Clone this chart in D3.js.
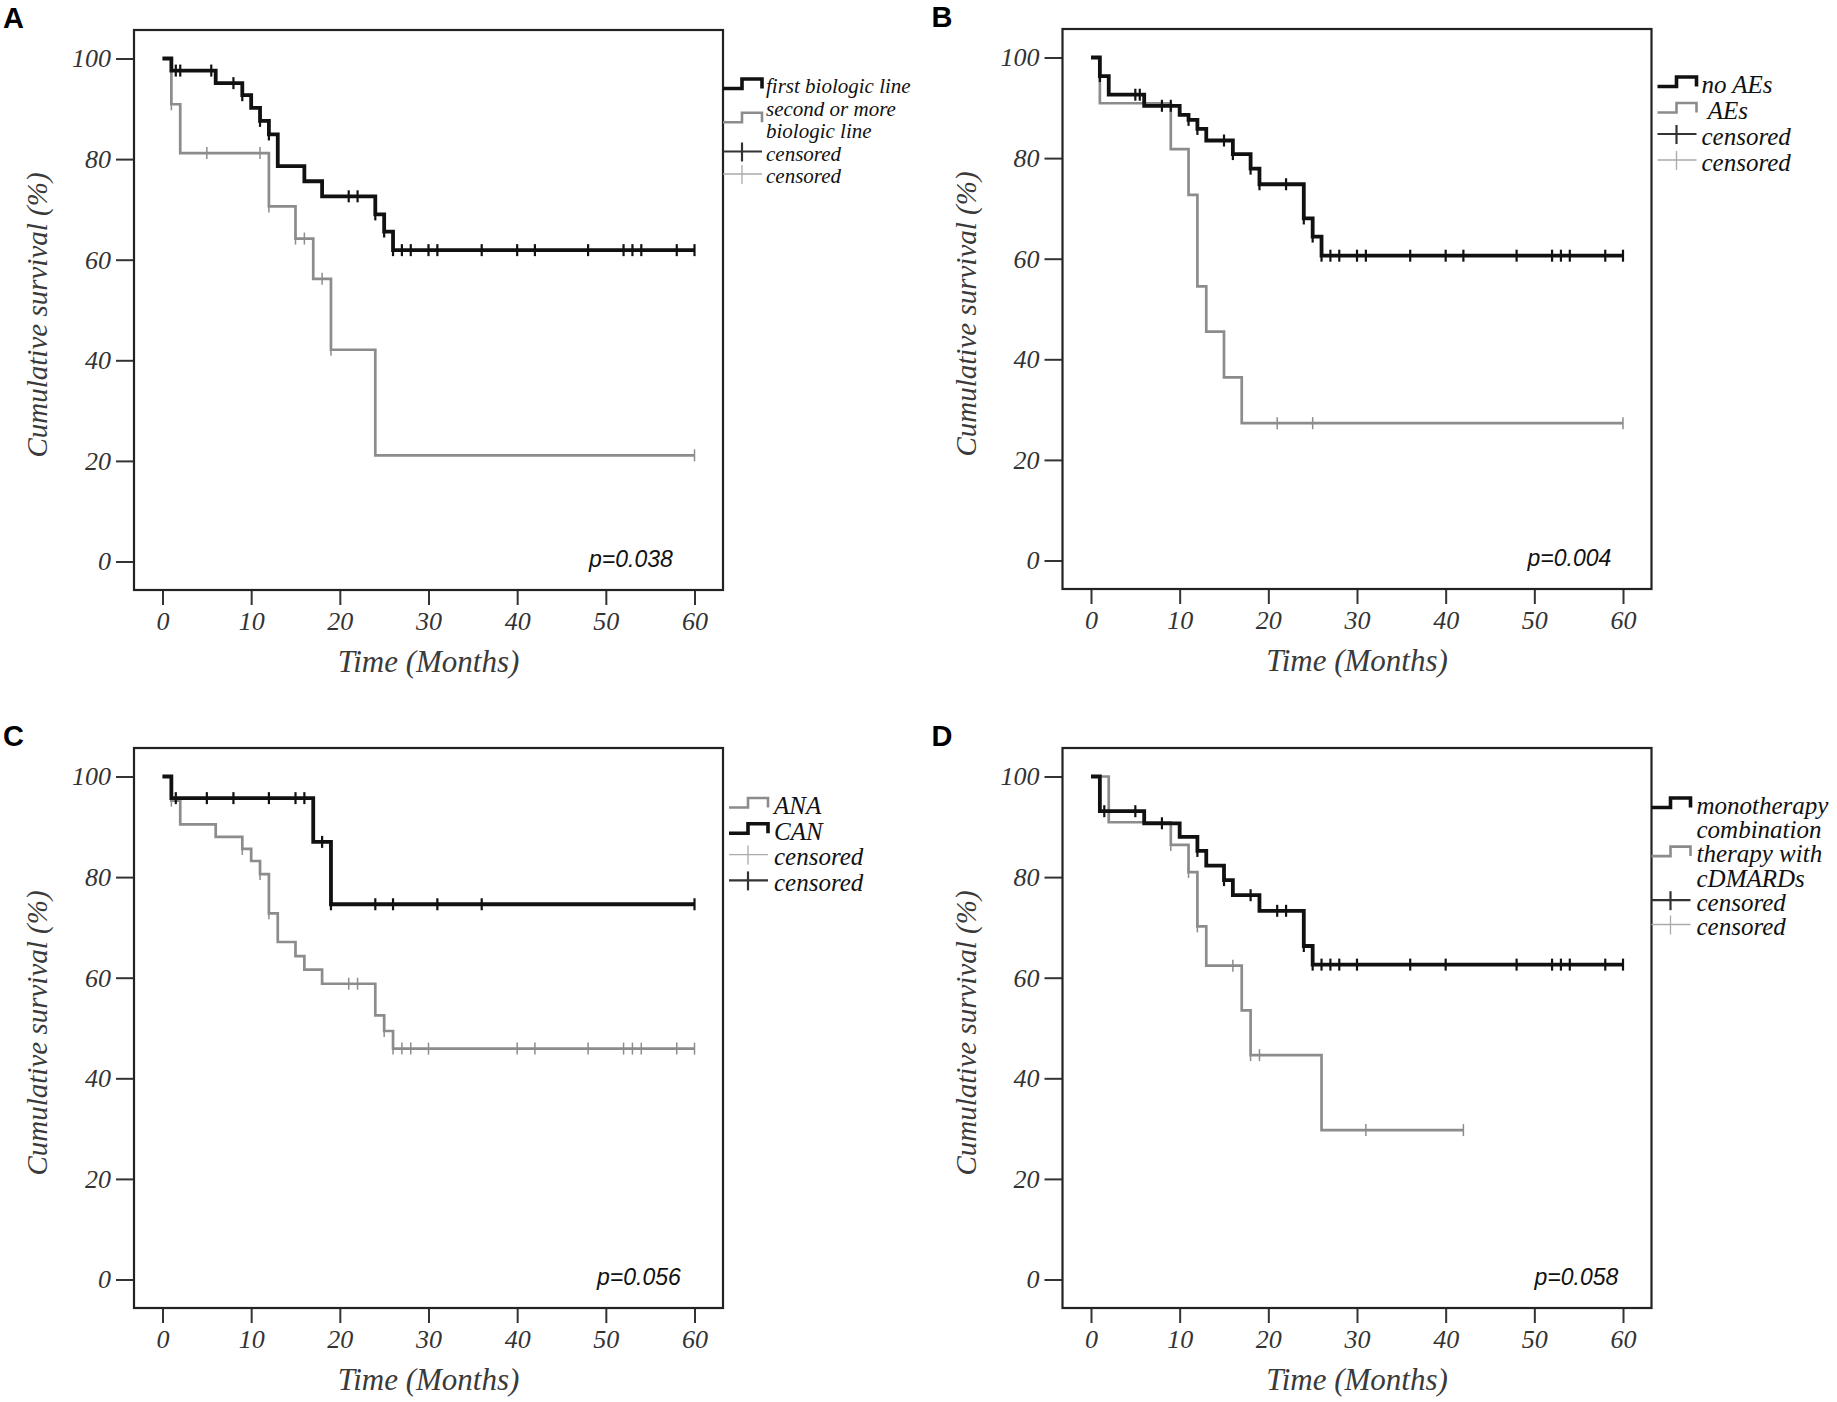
<!DOCTYPE html>
<html>
<head>
<meta charset="utf-8">
<script src="https://cdn.jsdelivr.net/npm/d3@7"></script>
<style>
  body { margin: 0; background: #fff; }
</style>
</head>
<body>
<svg id="chart" width="1837" height="1402"></svg>
<script>
// ---- data ----
const xTicks = [0, 10, 20, 30, 40, 50, 60];
const yTicks = [0, 20, 40, 60, 80, 100];
const panelLabels = ["A", "B", "C", "D"];
const pValues = ["p=0.038", "p=0.004", "p=0.056", "p=0.058"];
const xTitle = "Time (Months)";
const yTitle = "Cumulative survival (%)";

// A: biologic line
const aFirstTimes = [0, 1, 6, 9, 10, 11, 12, 13, 16, 18, 24, 25, 26];
const aFirstSurv  = [100, 97.6, 95.1, 92.7, 90.2, 87.6, 84.9, 78.6, 75.6, 72.6, 69.0, 65.6, 61.9];
const aFirstCens  = [1.5, 2, 5.5, 8, 9, 11, 12, 21, 22, 24, 25, 26, 27, 28, 30, 31, 36, 40, 42, 48, 52, 53, 54, 58, 60];
const aSecondTimes = [0, 1, 2, 12, 15, 17, 19, 24];
const aSecondSurv  = [100, 90.9, 81.2, 70.6, 64.2, 56.2, 42.1, 21.1];
const aSecondCens  = [1, 5, 11, 12, 15, 16, 18, 19, 60];

// B: adverse events
const bNoAeTimes = [0, 1, 2, 6, 10, 11, 12, 13, 16, 18, 19, 24, 25, 26];
const bNoAeSurv  = [100, 96.3, 92.6, 90.4, 88.6, 87.6, 85.8, 83.5, 80.8, 77.9, 74.8, 68.0, 64.4, 60.6];
const bNoAeCens  = [1, 5, 5.5, 8, 9, 11, 12, 15, 16, 18, 19, 22, 24, 25, 26, 27, 28, 30, 31, 36, 40, 42, 48, 52, 53, 54, 58, 60];
const bAeTimes = [0, 1, 9, 11, 12, 13, 15, 17];
const bAeSurv  = [100, 90.9, 81.8, 72.7, 54.5, 45.5, 36.4, 27.3];
const bAeCens  = [21, 25, 60];

// C: ANA vs CAN
const cAnaTimes = [0, 1, 2, 6, 9, 10, 11, 12, 13, 15, 16, 18, 24, 25, 26];
const cAnaSurv  = [100, 95.2, 90.5, 88.0, 85.6, 83.2, 80.6, 72.8, 67.1, 64.3, 61.6, 58.8, 52.5, 49.4, 45.9];
const cAnaCens  = [1, 9, 11, 12, 21, 22, 25, 26, 27, 28, 30, 40, 42, 48, 52, 53, 54, 58, 60];
const cCanTimes = [0, 1, 17, 19];
const cCanSurv  = [100, 95.7, 87.0, 74.6];
const cCanCens  = [1.5, 5, 8, 12, 15, 16, 18, 19, 24, 26, 31, 36, 60];

// D: monotherapy vs combination
const dMonoTimes = [0, 1, 6, 10, 12, 13, 15, 16, 19, 24, 25];
const dMonoSurv  = [100, 93.1, 90.7, 88.0, 85.2, 82.3, 79.4, 76.4, 73.3, 66.3, 62.6];
const dMonoCens  = [1.5, 5, 8, 12, 15, 18, 21, 22, 24, 25, 26, 27, 28, 30, 36, 40, 48, 52, 53, 54, 58, 60];
const dCombTimes = [0, 2, 9, 11, 12, 13, 17, 18, 26];
const dCombSurv  = [100, 90.9, 86.4, 81.0, 70.2, 62.4, 53.5, 44.6, 29.7];
const dCombCens  = [9, 11, 12, 16, 18, 19, 31, 42];

const BLACK = "#111", GRAY = "#8c8c8c";
const serif = "'Liberation Serif','Times New Roman',serif";
const sans = "'Liberation Sans',Arial,sans-serif";

const black = (times, surv, cens) => ({times, surv, cens, color: BLACK, width: 3.8, censW: 2.2});
const gray  = (times, surv, cens) => ({times, surv, cens, color: GRAY, width: 2.7, censW: 1.5});

// panel layout (frame boxes) + legends
const panels = [
  { left: 134, top: 30, pX: 455,
    series: [gray(aSecondTimes, aSecondSurv, aSecondCens), black(aFirstTimes, aFirstSurv, aFirstCens)],
    legend: { sx: 0, tx: 43, y0: 56, pitch: 22.5, size: 21, entries: [
      {lines: ["first biologic line"], kind: "step", color: BLACK, w: 3.6},
      {lines: ["second or more", "biologic line"], kind: "step", color: GRAY, w: 2.6},
      {lines: ["censored"], kind: "cens", color: "#333", w: 2.2},
      {lines: ["censored"], kind: "cens", color: "#aaa", w: 1.3}]}},
  { left: 1062.5, top: 29, pX: 465,
    series: [gray(bAeTimes, bAeSurv, bAeCens), black(bNoAeTimes, bNoAeSurv, bNoAeCens)],
    legend: { sx: 6, tx: 50, y0: 55, pitch: 26, size: 25, entries: [
      {lines: ["no AEs"], kind: "step", color: BLACK, w: 3.6},
      {lines: ["\u00a0AEs"], kind: "step", color: GRAY, w: 2.6},
      {lines: ["censored"], kind: "cens", color: "#333", w: 2.2},
      {lines: ["censored"], kind: "cens", color: "#aaa", w: 1.3}]}},
  { left: 134, top: 748, pX: 463,
    series: [gray(cAnaTimes, cAnaSurv, cAnaCens), black(cCanTimes, cCanSurv, cCanCens)],
    legend: { sx: 6, tx: 51, y0: 57, pitch: 25.8, size: 25, entries: [
      {lines: ["ANA"], kind: "step", color: GRAY, w: 2.6},
      {lines: ["CAN"], kind: "step", color: BLACK, w: 3.6},
      {lines: ["censored"], kind: "cens", color: "#aaa", w: 1.3},
      {lines: ["censored"], kind: "cens", color: "#333", w: 2.2}]}},
  { left: 1062.5, top: 748, pX: 472,
    series: [gray(dCombTimes, dCombSurv, dCombCens), black(dMonoTimes, dMonoSurv, dMonoCens)],
    legend: { sx: 0, tx: 45, y0: 57, pitch: 24.3, size: 25, entries: [
      {lines: ["monotherapy"], kind: "step", color: BLACK, w: 3.6},
      {lines: ["combination", "therapy with", "cDMARDs"], kind: "step", color: GRAY, w: 2.6},
      {lines: ["censored"], kind: "cens", color: "#333", w: 2.2},
      {lines: ["censored"], kind: "cens", color: "#aaa", w: 1.3}]}}
];

const W = 589, H = 560, pad = 28.5;
const svg = d3.select("#chart");

panels.forEach((p, pi) => {
  const g = svg.append("g");
  const right = p.left + W, bottom = p.top + H;

  const x = d3.scaleLinear().domain([0, 60]).range([p.left + pad, right - pad]);
  const y = d3.scaleLinear().domain([0, 100]).range([bottom - pad, p.top + pad]);

  // panel letter
  g.append("text")
    .attr("x", p.left - 131).attr("y", p.top - 2)
    .attr("font-family", sans).attr("font-weight", "bold").attr("font-size", 29)
    .attr("fill", "#000").text(panelLabels[pi]);

  // axes
  const ya = g.append("g").attr("transform", `translate(${p.left},0)`)
    .call(d3.axisLeft(y).tickValues(yTicks).tickSize(18).tickPadding(5));
  const xa = g.append("g").attr("transform", `translate(0,${bottom})`)
    .call(d3.axisBottom(x).tickValues(xTicks).tickSize(15).tickPadding(7));
  [ya, xa].forEach(a => {
    a.attr("font-family", serif).attr("font-size", 26).attr("font-style", "italic");
    a.select(".domain").remove();
    a.selectAll("line").attr("stroke", "#333").attr("stroke-width", 2);
    a.selectAll("text").attr("fill", "#333");
  });

  // frame
  g.append("rect")
    .attr("x", p.left).attr("y", p.top).attr("width", W).attr("height", H)
    .attr("fill", "none").attr("stroke", "#222").attr("stroke-width", 2.2);

  // axis titles
  g.append("text")
    .attr("x", (p.left + right) / 2).attr("y", bottom + 82)
    .attr("text-anchor", "middle").attr("font-family", serif).attr("font-style", "italic")
    .attr("font-size", 31).attr("fill", "#3a3a3a").text(xTitle);
  g.append("text")
    .attr("transform", `translate(${p.left - 87},${(p.top + bottom) / 2 + 5}) rotate(-90)`)
    .attr("text-anchor", "middle").attr("font-family", serif).attr("font-style", "italic")
    .attr("font-size", 29).attr("fill", "#3a3a3a").text(yTitle);

  // survival curves
  const line = d3.line().x(d => x(d[0])).y(d => y(d[1])).curve(d3.curveStepAfter);
  p.series.forEach(s => {
    const end = Math.max(d3.max(s.cens), d3.max(s.times));
    const pts = s.times.map((t, i) => [t, s.surv[i]]);
    pts.push([end, s.surv[s.surv.length - 1]]);
    g.append("path").datum(pts)
      .attr("d", line)
      .attr("fill", "none").attr("stroke", s.color).attr("stroke-width", s.width)
      .attr("stroke-linejoin", "miter");

    const level = t => s.surv[d3.bisectRight(s.times, t) - 1];
    g.selectAll(null).data(s.cens).join("line")
      .attr("x1", d => x(d)).attr("x2", d => x(d))
      .attr("y1", d => y(level(d)) - 6).attr("y2", d => y(level(d)) + 6)
      .attr("stroke", s.color).attr("stroke-width", s.censW);
  });

  // p value
  g.append("text")
    .attr("x", p.left + p.pX).attr("y", bottom - 23)
    .attr("font-family", sans).attr("font-style", "italic").attr("font-size", 23)
    .attr("fill", "#111").text(pValues[pi]);

  // legend
  const L = p.legend;
  let row = 0;
  L.entries.forEach(e => {
    const n = e.lines.length;
    const cy = p.top + L.y0 + L.pitch * (row + (n - 1) / 2);
    const sx0 = right + L.sx, sx1 = sx0 + 39, smid = sx0 + 19;
    if (e.kind === "step") {
      g.append("path")
        .datum([[sx0, cy + 2.5], [smid, cy - 7], [sx1, cy + 2.5]])
        .attr("d", d3.line().curve(d3.curveStepAfter))
        .attr("fill", "none").attr("stroke", e.color).attr("stroke-width", e.w);
    } else {
      g.append("line").attr("x1", sx0).attr("x2", sx1).attr("y1", cy - 2).attr("y2", cy - 2)
        .attr("stroke", e.color).attr("stroke-width", e.w);
      g.append("line").attr("x1", smid).attr("x2", smid).attr("y1", cy - 11).attr("y2", cy + 8)
        .attr("stroke", e.color).attr("stroke-width", e.w);
    }
    e.lines.forEach((t, k) => {
      g.append("text")
        .attr("x", right + L.tx).attr("y", p.top + L.y0 + L.pitch * (row + k))
        .attr("dy", "0.35em")
        .attr("font-family", serif).attr("font-style", "italic").attr("font-size", L.size)
        .attr("fill", "#111").text(t);
    });
    row += n;
  });
});
</script>
</body>
</html>
